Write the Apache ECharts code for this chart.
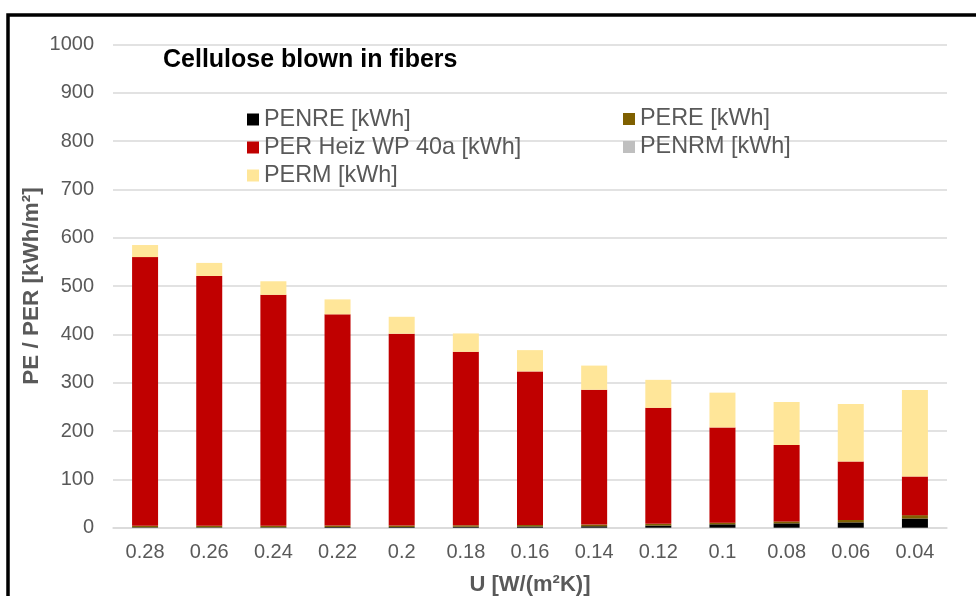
<!DOCTYPE html>
<html>
<head>
<meta charset="utf-8">
<script src="https://cdn.jsdelivr.net/npm/echarts@6/dist/echarts.min.js"></script>
<style>
  html, body { margin: 0; padding: 0; background: #fff; }
  #chart { width: 976px; height: 596px; }
</style>
</head>
<body>
<div id="chart"></div>
<script>
// U-Werte (x-Achse)
const categories = ['0.28', '0.26', '0.24', '0.22', '0.2', '0.18', '0.16', '0.14', '0.12', '0.1', '0.08', '0.06', '0.04']

// gestapelte Werte [kWh/m²], von unten nach oben
const penre   = [1, 1, 1, 1.5, 1.5, 2, 2.5, 3, 4.5, 7, 9, 11, 19]
const pere    = [3, 3, 3, 3, 3, 3, 3, 3.5, 3.5, 3.5, 4, 5, 7]
const perHeiz = [556, 517, 478, 437, 397, 359, 318, 279, 240, 197, 158, 121, 80]
const penrm   = [0, 0, 0, 0, 0, 0, 0, 0, 0, 0, 0, 0, 0]
const perm    = [25, 27, 28, 31, 35, 38, 44, 50, 58, 72, 89, 119, 179]

const yTicks = [0, 100, 200, 300, 400, 500, 600, 700, 800, 900, 1000]

const font = "'Liberation Sans', Arial, sans-serif"

function bar(name, data, color) {
  return {
    name: name,
    type: 'bar',
    stack: 'total',
    barWidth: 26,
    itemStyle: { color: color },
    emphasis: { disabled: true },
    data: data,
  }
}

const legendText = { fontFamily: font, fontSize: 23.4, lineHeight: 24, color: '#595959' }

let option = {
  animation: false,
  textStyle: { fontFamily: font },
  title: {
    text: 'Cellulose blown in fibers',
    left: 163,
    top: 48,
    padding: 0,
    textStyle: { fontFamily: font, fontSize: 25, fontWeight: 'bold', color: '#000' },
  },
  legend: [
    {
      orient: 'vertical',
      left: 247,
      top: 107.5,
      padding: 0,
      icon: 'rect',
      itemWidth: 12,
      itemHeight: 12,
      itemGap: 4,
      selectedMode: false,
      data: ['PENRE [kWh]', 'PER Heiz WP 40a [kWh]', 'PERM [kWh]'],
      textStyle: legendText,
    },
    {
      orient: 'vertical',
      left: 623,
      top: 107,
      padding: 0,
      icon: 'rect',
      itemWidth: 12,
      itemHeight: 12,
      itemGap: 4,
      selectedMode: false,
      data: ['PERE [kWh]', 'PENRM [kWh]'],
      textStyle: legendText,
    },
  ],
  grid: {
    left: 113,
    right: 29,
    top: 44.5,
    bottom: 68.3,
    containLabel: false,
    outerBoundsMode: 'none',
  },
  xAxis: {
    type: 'category',
    data: categories,
    name: 'U [W/(m²K)]',
    nameLocation: 'middle',
    nameGap: 46,
    nameMoveOverlap: false,
    nameTextStyle: { fontFamily: font, fontSize: 22, fontWeight: 'bold', color: '#595959' },
    axisLine: { lineStyle: { color: '#d9d9d9', width: 1.5 } },
    axisTick: { show: false },
    axisLabel: { margin: 15, fontSize: 20, color: '#595959', fontFamily: font },
  },
  yAxis: {
    type: 'value',
    min: yTicks[0],
    max: yTicks[yTicks.length - 1],
    interval: 100,
    name: 'PE / PER [kWh/m²]',
    nameLocation: 'middle',
    nameRotate: 90,
    nameGap: 70,
    nameMoveOverlap: false,
    nameTextStyle: { fontFamily: font, fontSize: 22.5, fontWeight: 'bold', color: '#595959' },
    axisLine: { show: false },
    axisTick: { show: false },
    axisLabel: {
      margin: 19,
      fontSize: 20,
      color: '#595959',
      fontFamily: font,
      formatter: (v) => String(v),
    },
    splitLine: { lineStyle: { color: '#d9d9d9', width: 1.5 } },
  },
  series: [
    bar('PENRE [kWh]', penre, '#000000'),
    bar('PERE [kWh]', pere, '#7f6000'),
    bar('PER Heiz WP 40a [kWh]', perHeiz, '#c00000'),
    bar('PENRM [kWh]', penrm, '#bfbfbf'),
    bar('PERM [kWh]', perm, '#ffe699'),
  ],
  // Rahmen oben/links
  graphic: [
    {
      type: 'rect',
      silent: true,
      shape: { x: 8, y: 15, width: 1200, height: 900 },
      style: { fill: null, stroke: '#000', lineWidth: 3.5 },
    },
  ],
}

let myChart = echarts.init(document.getElementById('chart'))
myChart.setOption(option)
</script>
</body>
</html>
